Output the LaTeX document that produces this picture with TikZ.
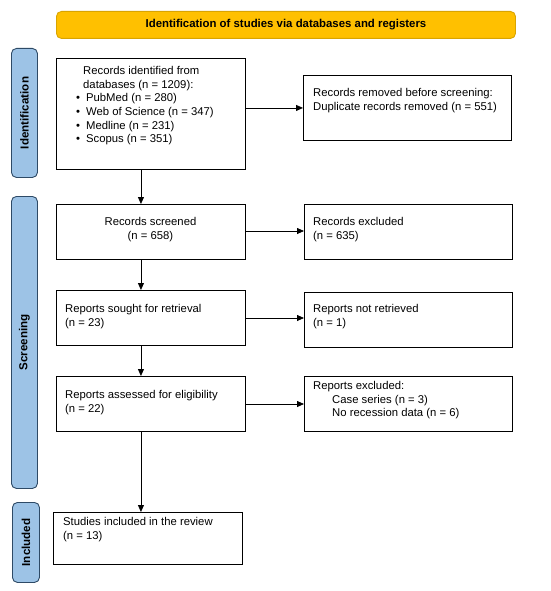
\documentclass[tikz,border=0pt]{standalone}
\usepackage{fontspec}
\setmainfont{Liberation Sans}
\usetikzlibrary{arrows.meta}
\definecolor{ybar}{HTML}{FFC000}
\definecolor{ybord}{HTML}{D9A400}
\definecolor{bbar}{HTML}{9DC3E6}
\definecolor{bbord}{HTML}{2E4A66}
\tikzset{
  box/.style={draw=black, line width=0.9pt, rectangle, inner sep=0pt, anchor=north west},
  txt/.style={anchor=north west, inner sep=0pt, align=left, font=\fontsize{11.3}{13.7}\selectfont},
  ctxt/.style={anchor=north, inner sep=0pt, align=center, font=\fontsize{11.3}{13.7}\selectfont},
  side/.style={draw=bbord, fill=bbar, line width=0.9pt, rounded corners=5pt, rectangle, inner sep=0pt, anchor=north west},
  sidelabel/.style={rotate=90, inner sep=0pt, font=\fontsize{11.6}{13}\selectfont\bfseries},
  arr/.style={line width=0.8pt, -{Triangle[length=7pt,width=6pt]}},
}
\begin{document}
\begin{tikzpicture}[x=1pt,y=-1pt]
\useasboundingbox[fill=white] (0,0) rectangle (550,591);
% title bar
\node[draw=ybord, fill=ybar, line width=0.9pt, rounded corners=5pt, inner sep=0pt, anchor=north west,
      minimum width=459pt, minimum height=27pt,
      font=\fontsize{11.4}{13}\selectfont\bfseries] (title) at (56,11) {Identification of studies via databases and registers};
% side bars
\node[side, minimum width=26pt, minimum height=129pt] (sid) at (11,48) {};
\node[sidelabel] at (sid.center) {Identification};
\node[side, minimum width=26pt, minimum height=292pt] (sscr) at (11,196) {};
\node[sidelabel] at (sscr.center) {Screening};
\node[side, minimum width=27pt, minimum height=80pt] (sinc) at (12,502) {};
\node[sidelabel] at (sinc.center) {Included};
% boxes
\node[box, minimum width=189pt, minimum height=111pt] (rec) at (56,58) {};
\node[txt] (rect) at (83,66) {Records identified from\\databases (n = 1209):};
\node[txt] (recl) at (76,93.4) {•\hspace{6pt}PubMed (n = 280)\\•\hspace{6pt}Web of Science (n = 347)\\•\hspace{6pt}Medline (n = 231)\\•\hspace{6pt}Scopus (n = 351)};
\node[box, minimum width=208pt, minimum height=65pt] (rem) at (303,75) {};
\node[txt] at (313,88) {Records removed before screening:\\Duplicate records removed (n = 551)};

\node[box, minimum width=189pt, minimum height=55pt] (scr) at (56,204) {};
\node[ctxt] at (150.5,217) {Records screened\\(n = 658)};
\node[box, minimum width=208pt, minimum height=55pt] (exc) at (304,204) {};
\node[txt] at (313,217) {Records excluded\\(n = 635)};

\node[box, minimum width=189pt, minimum height=55pt] (sou) at (56,290) {};
\node[txt] at (65,304) {Reports sought for retrieval\\(n = 23)};
\node[box, minimum width=208pt, minimum height=55pt] (nre) at (304,292) {};
\node[txt] at (313,304) {Reports not retrieved\\(n = 1)};

\node[box, minimum width=189pt, minimum height=55pt] (ass) at (56,376) {};
\node[txt] at (65,390) {Reports assessed for eligibility\\(n = 22)};
\node[box, minimum width=208pt, minimum height=55pt] (rex) at (304,376) {};
\node[txt] at (313,381) {Reports excluded:\\\hspace{19pt}Case series (n = 3)\\\hspace{19pt}No recession data (n = 6)};

\node[box, minimum width=189pt, minimum height=52pt] (inc) at (53,512) {};
\node[txt] at (63,517) {Studies included in the review\\(n = 13)};

% arrows
\draw[arr] (rec.east |- rem.west) -- (rem.west);
\draw[arr] (scr.east |- 0,231) -- (exc.west |- 0,231);
\draw[arr] (sou.east |- 0,318) -- (nre.west |- 0,318);
\draw[arr] (ass.east |- 0,404) -- (rex.west |- 0,404);
\draw[arr] ([xshift=-10pt]rec.south) -- ([xshift=-10pt]rec.south |- scr.north);
\draw[arr] ([xshift=-10pt]scr.south) -- ([xshift=-10pt]scr.south |- sou.north);
\draw[arr] ([xshift=-10pt]sou.south) -- ([xshift=-10pt]sou.south |- ass.north);
\draw[arr] ([xshift=-10pt]ass.south) -- ([xshift=-10pt]ass.south |- inc.north);
\end{tikzpicture}
\end{document}
